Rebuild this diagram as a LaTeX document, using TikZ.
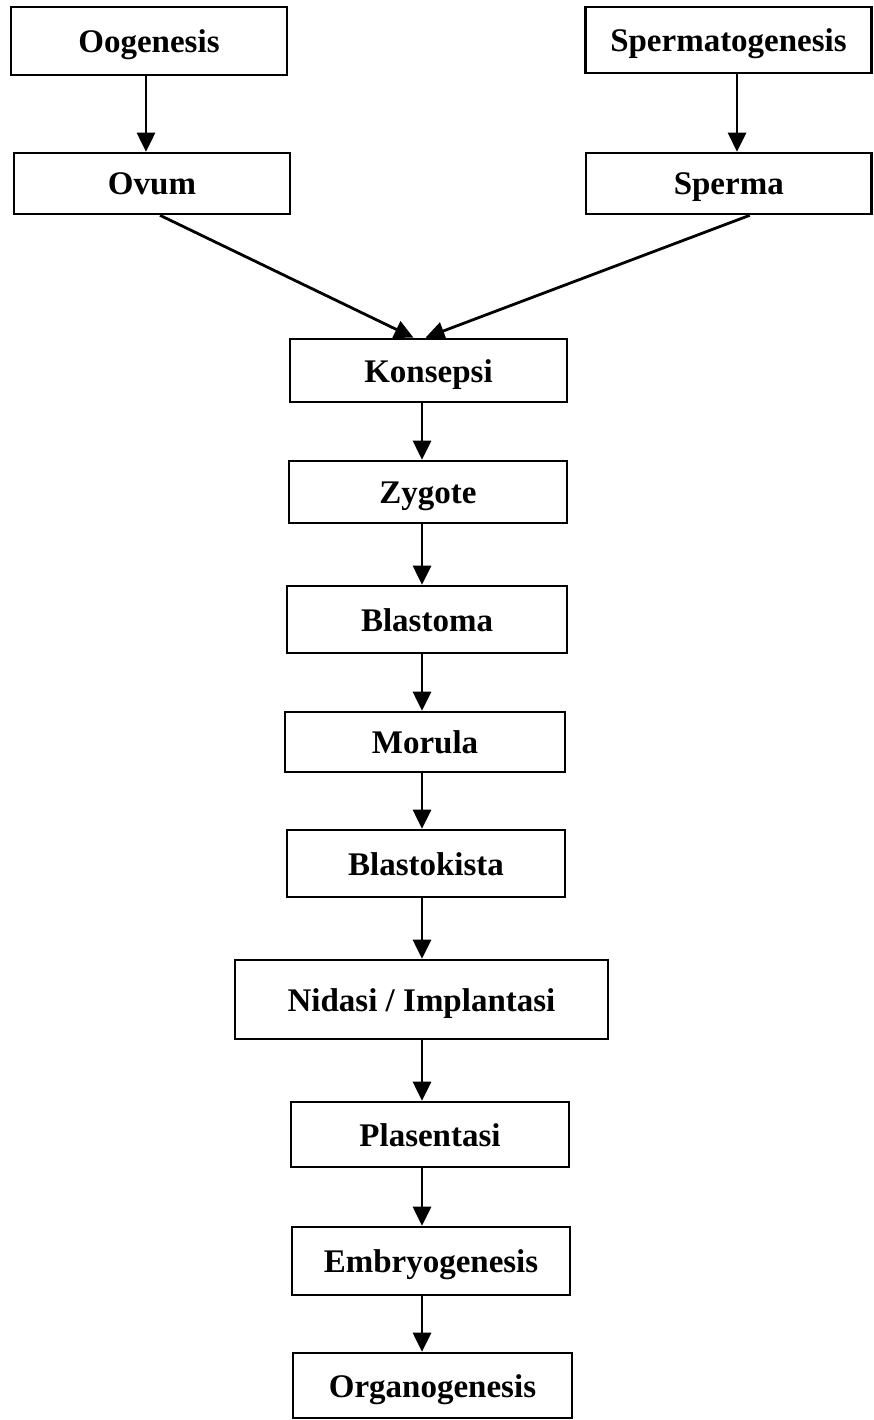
\documentclass[tikz,border=0pt]{standalone}
\usepackage{fontspec}
\setmainfont{Liberation Serif}
\usetikzlibrary{arrows.meta}
\begin{document}
\begin{tikzpicture}[x=1pt,y=-1pt,
  box/.style={draw=black, line width=2.6pt, inner sep=0pt, fill=white,
    text height=23pt, text depth=0pt,
    font=\fontsize{33}{40}\selectfont\bfseries},
  arr/.style={draw=black, line width=2.8pt,
    -{Triangle[length=19pt,width=18pt]}}]
\useasboundingbox (0,0) rectangle (873,1420);
\node[box, minimum width=276pt, minimum height=68pt] (oog) at (149,41) {Oogenesis};
\node[box, minimum width=286pt, minimum height=66pt] (spg) at (728.5,40) {Spermatogenesis};
\node[box, minimum width=276pt, minimum height=61pt] (ovum) at (152,183.5) {Ovum};
\node[box, minimum width=285.5pt, minimum height=61pt] (sper) at (728.75,183.5) {Sperma};
\node[box, minimum width=277pt, minimum height=63pt] (kon) at (428.5,370.5) {Konsepsi};
\node[box, minimum width=278pt, minimum height=62pt] (zyg) at (428,492) {Zygote};
\node[box, minimum width=280pt, minimum height=67pt] (bla) at (427,619.5) {Blastoma};
\node[box, minimum width=280pt, minimum height=60pt] (mor) at (425,742) {Morula};
\node[box, minimum width=278pt, minimum height=67pt] (bk) at (426,863.5) {Blastokista};
\node[box, minimum width=373pt, minimum height=79pt] (nid) at (421.5,999.5) {Nidasi / Implantasi};
\node[box, minimum width=278pt, minimum height=65pt] (pla) at (430,1134.5) {Plasentasi};
\node[box, minimum width=278pt, minimum height=68pt] (emb) at (431,1261) {Embryogenesis};
\node[box, minimum width=279pt, minimum height=65pt] (org) at (432.5,1385.5) {Organogenesis};
\coordinate (lspine) at (146,0);
\coordinate (rspine) at (737,0);
\coordinate (spine) at (422,0);
\draw[arr] (oog.south -| lspine) -- (ovum.north -| lspine);
\draw[arr] (spg.south -| rspine) -- (sper.north -| rspine);
\draw[arr] ([xshift=8pt]ovum.south) -- ([xshift=-15pt]kon.north);
\draw[arr] ([xshift=21pt]sper.south) -- ([xshift=-3pt]kon.north);
\draw[arr] (kon.south -| spine) -- (zyg.north -| spine);
\draw[arr] (zyg.south -| spine) -- (bla.north -| spine);
\draw[arr] (bla.south -| spine) -- (mor.north -| spine);
\draw[arr] (mor.south -| spine) -- (bk.north -| spine);
\draw[arr] (bk.south -| spine) -- (nid.north -| spine);
\draw[arr] (nid.south -| spine) -- (pla.north -| spine);
\draw[arr] (pla.south -| spine) -- (emb.north -| spine);
\draw[arr] (emb.south -| spine) -- (org.north -| spine);
\end{tikzpicture}
\end{document}
